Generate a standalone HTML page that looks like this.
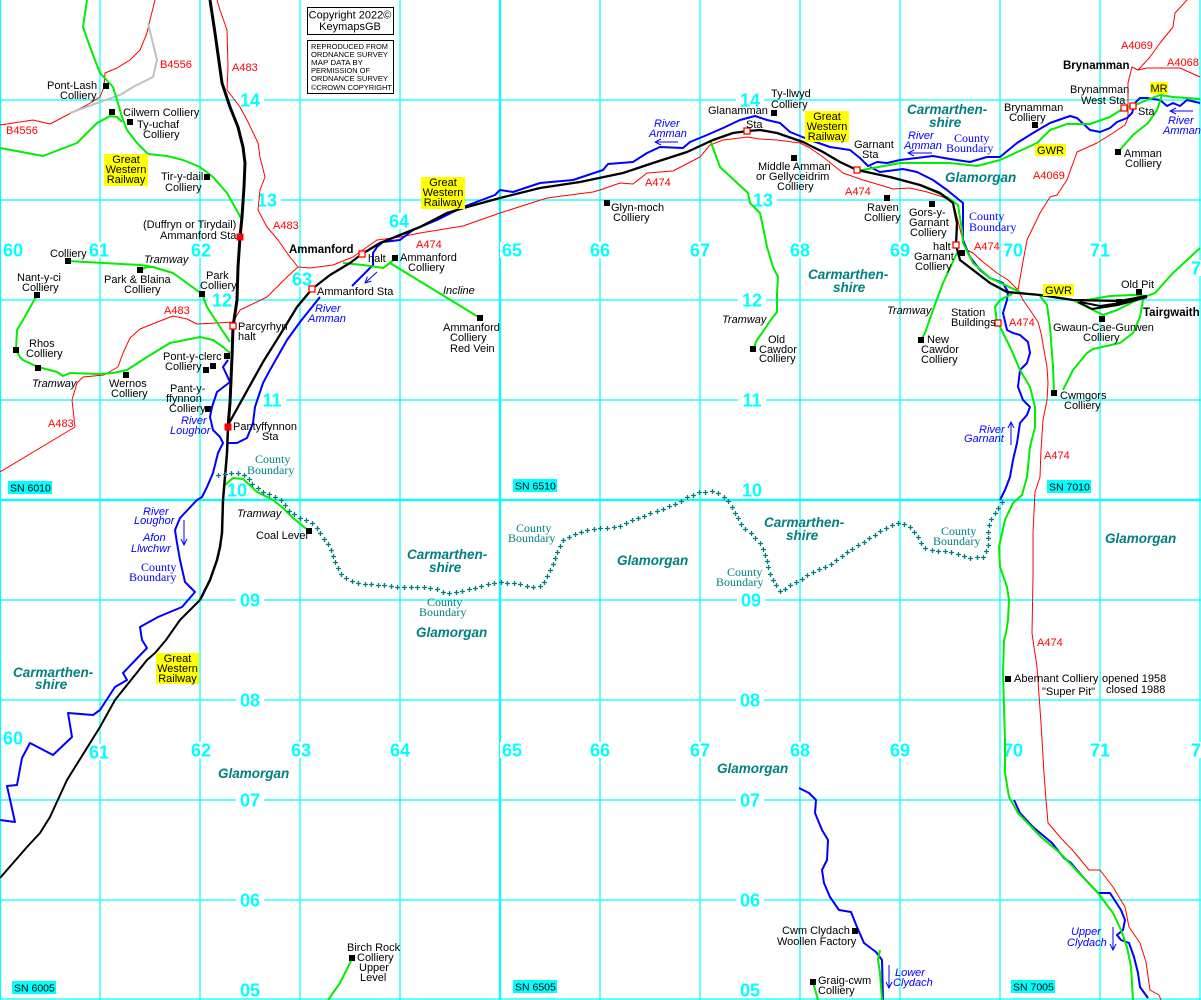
<!DOCTYPE html>
<html>
<head>
<meta charset="utf-8">
<style>
html,body{margin:0;padding:0;background:#fff;}
svg{display:block;}
text{font-family:"Liberation Sans",sans-serif;font-size:11px;fill:#000;}
.b{font-weight:bold;font-size:11.5px;}
.i{font-style:italic;}
.bl{font-style:italic;fill:#0000ff;}
.r{fill:#ff0000;}
.tl{font-weight:bold;font-style:italic;font-size:13.5px;fill:#008080;}
.cs{font-family:"Liberation Serif",serif;font-size:12px;fill:#008080;}
.cb{font-family:"Liberation Serif",serif;font-size:12px;fill:#0000ff;}
.g{font-weight:bold;font-size:18px;fill:#00ffff;text-anchor:middle;}
.c{text-anchor:middle;}
.sn{font-size:10.5px;}
.cp{font-size:7.5px;}
</style>
</head>
<body>
<svg width="1201" height="1000" viewBox="0 0 1201 1000" xmlns="http://www.w3.org/2000/svg">
<defs>
<marker id="ah" markerWidth="8" markerHeight="8" refX="7" refY="4" orient="auto" markerUnits="userSpaceOnUse">
<path d="M1,1 L7,4 L1,7" fill="none" stroke="#0000ff" stroke-width="1"/>
</marker>
<path id="cbpath" d="M218,475 L230,473 L240,473 L248,477 L253,485 L263,492 L273,495 L283,502 L290,512 L300,518 L310,522 L317,528 L323,537 L330,547 L333,557 L337,567 L343,577 L353,582 L367,584 L383,585 L400,587 L417,587 L433,588 L447,593 L460,592 L477,587 L497,582 L517,583 L530,587 L543,585 L547,577 L553,563 L558,550 L563,540 L577,533 L597,528 L617,527 L633,520 L653,512 L673,505 L687,497 L700,492 L713,491 L722,495 L730,503 L735,513 L743,527 L753,535 L760,543 L765,553 L768,567 L772,578 L777,587 L780,592 L787,587 L800,580 L813,572 L830,565 L850,550 L867,540 L887,527 L900,522 L910,527 L917,535 L923,547 L933,550 L953,552 L970,558 L983,557 L988,548 L988,530 L990,520 L997,510 L1002,502"/>
</defs>
<rect x="0" y="0" width="1201" height="1000" fill="#fff"/>

<!-- grid -->
<g stroke="#00ffff" stroke-width="1.2" fill="none">
<path d="M0.5,0V1000M100,0V1000M200,0V1000M300,0V1000M400,0V1000M600,0V1000M700,0V1000M800,0V1000M900,0V1000M1000,0V1000M1100,0V1000M1200,0V1000"/>
<path d="M0,100H1201M0,200H1201M0,300H1201M0,400H1201M0,600H1201M0,700H1201M0,800H1201M0,900H1201M0,999H1201"/>
</g>
<g stroke="#00ffff" stroke-width="2.2" fill="none">
<path d="M500,0V1000M0,500H1201"/>
</g>

<!-- grid labels -->
<g fill="#fff">
<rect x="236" y="92" width="28" height="16"/><rect x="736" y="92" width="28" height="16"/>
<rect x="253" y="192" width="28" height="16"/><rect x="749" y="192" width="28" height="16"/>
<rect x="208" y="292" width="28" height="16"/><rect x="738" y="292" width="28" height="16"/>
<rect x="258" y="392" width="28" height="16"/><rect x="738" y="392" width="28" height="16"/>
<rect x="223" y="482" width="28" height="16"/><rect x="738" y="482" width="28" height="16"/>
<rect x="236" y="592" width="28" height="16"/><rect x="737" y="592" width="28" height="16"/>
<rect x="236" y="692" width="28" height="16"/><rect x="736" y="692" width="28" height="16"/>
<rect x="236" y="792" width="28" height="16"/><rect x="736" y="792" width="28" height="16"/>
<rect x="236" y="892" width="28" height="16"/><rect x="736" y="892" width="28" height="16"/>
<rect x="236" y="982" width="28" height="16"/><rect x="736" y="982" width="28" height="16"/>
<rect x="1" y="242" width="26" height="16"/><rect x="87" y="242" width="26" height="16"/><rect x="189" y="242" width="26" height="16"/><rect x="290" y="271" width="26" height="16"/><rect x="387" y="213" width="26" height="16"/><rect x="500" y="242" width="26" height="16"/><rect x="588" y="242" width="26" height="16"/><rect x="688" y="242" width="26" height="16"/><rect x="788" y="242" width="26" height="16"/><rect x="888" y="242" width="26" height="16"/><rect x="1001" y="242" width="26" height="16"/><rect x="1088" y="242" width="26" height="16"/><rect x="1189" y="260" width="12" height="16"/>
<rect x="1" y="730" width="26" height="16"/><rect x="87" y="744" width="26" height="16"/><rect x="189" y="742" width="26" height="16"/><rect x="289" y="742" width="26" height="16"/><rect x="388" y="742" width="26" height="16"/><rect x="500" y="742" width="26" height="16"/><rect x="588" y="742" width="26" height="16"/><rect x="688" y="742" width="26" height="16"/><rect x="788" y="742" width="26" height="16"/><rect x="888" y="742" width="26" height="16"/><rect x="1001" y="742" width="26" height="16"/><rect x="1088" y="742" width="26" height="16"/><rect x="1189" y="742" width="12" height="16"/>
</g>
<g>
<text class="g" x="250" y="106.5">14</text><text class="g" x="750" y="106.5">14</text>
<text class="g" x="267" y="206.5">13</text><text class="g" x="763" y="206.5">13</text>
<text class="g" x="222" y="306.5">12</text><text class="g" x="752" y="306.5">12</text>
<text class="g" x="272" y="406.5">11</text><text class="g" x="752" y="406.5">11</text>
<text class="g" x="237" y="496.5">10</text><text class="g" x="752" y="496.5">10</text>
<text class="g" x="250" y="606.5">09</text><text class="g" x="751" y="606.5">09</text>
<text class="g" x="250" y="706.5">08</text><text class="g" x="750" y="706.5">08</text>
<text class="g" x="250" y="806.5">07</text><text class="g" x="750" y="806.5">07</text>
<text class="g" x="250" y="906.5">06</text><text class="g" x="750" y="906.5">06</text>
<text class="g" x="250" y="996.5">05</text><text class="g" x="750" y="996.5">05</text>
<text class="g" x="13" y="256.5">60</text><text class="g" x="99" y="256.5">61</text><text class="g" x="201" y="256.5">62</text><text class="g" x="302" y="285.5">63</text><text class="g" x="399" y="227.5">64</text><text class="g" x="512" y="256.5">65</text><text class="g" x="600" y="256.5">66</text><text class="g" x="700" y="256.5">67</text><text class="g" x="800" y="256.5">68</text><text class="g" x="900" y="256.5">69</text><text class="g" x="1013" y="256.5">70</text><text class="g" x="1100" y="256.5">71</text><text class="g" x="1196" y="274.5">7</text>
<text class="g" x="13" y="744.5">60</text><text class="g" x="99" y="758.5">61</text><text class="g" x="201" y="756.5">62</text><text class="g" x="301" y="756.5">63</text><text class="g" x="400" y="756.5">64</text><text class="g" x="512" y="756.5">65</text><text class="g" x="600" y="756.5">66</text><text class="g" x="700" y="756.5">67</text><text class="g" x="800" y="756.5">68</text><text class="g" x="900" y="756.5">69</text><text class="g" x="1013" y="756.5">70</text><text class="g" x="1100" y="756.5">71</text><text class="g" x="1196" y="756.5">7</text>
</g>

<!-- SN boxes -->
<g fill="#00ffff">
<rect x="8" y="481" width="44" height="13"/>
<rect x="513" y="479" width="44" height="13"/>
<rect x="1047" y="480" width="44" height="13"/>
<rect x="12" y="981" width="44" height="13"/>
<rect x="513" y="980" width="44" height="13"/>
<rect x="1011" y="980" width="44" height="13"/>
</g>
<text class="sn" x="10" y="491.5">SN 6010</text>
<text class="sn" x="515" y="489.5">SN 6510</text>
<text class="sn" x="1049" y="490.5">SN 7010</text>
<text class="sn" x="14" y="991.5">SN 6005</text>
<text class="sn" x="515" y="990.5">SN 6505</text>
<text class="sn" x="1013" y="990.5">SN 7005</text>

<!-- roads -->
<g fill="none" stroke="#ff0000" stroke-width="1" stroke-linejoin="round">
<path d="M217,0 L220,10 L227,30 L228,67 L227,90 L240,107 L248,122 L258,143 L260,157 L265,177 L260,190 L258,210 L267,227 L278,240 L290,257 L298,267"/>
<path d="M298,267 L310,268 L333,265 L353,257 L367,247 L377,240 L400,237 L420,233 L463,226 L500,213 L547,198 L593,192 L600,190 L620,183 L633,184 L647,173 L673,171 L700,157 L710,145 L723,140 L740,138 L747,137 L760,139 L777,140 L800,143 L810,148 L823,157 L833,165 L843,173 L863,180 L880,185 L893,189 L910,188 L927,192 L943,197 L953,202 L957,217 L962,237 L967,250 L973,253 L983,262 L997,273 L1008,280 L1018,290 L1023,300 L1030,310 L1038,322 L1041,333 L1047,367 L1048,383 L1047,400 L1043,420 L1041,450 L1040,477 L1035,492 L1033,533 L1033,577 L1032,633 L1033,640 L1037,667 L1041,723 L1044,773 L1046,800 L1048,823 L1060,837 L1075,853 L1089,870 L1100,870 L1113,887 L1125,907 L1129,927 L1140,943 L1146,962 L1150,990 L1159,995 L1161,1000"/>
<path d="M298,267 L287,277 L267,297 L240,310 L233,322 L217,323 L197,324 L187,319 L173,316 L160,321 L140,329 L130,338 L123,353 L118,367 L104,375 L83,377 L77,383 L72,400 L75,427 L0,472"/>
<path d="M155,0 L150,20 L147,33 L140,50 L130,60 L117,68 L105,73 L104,87 L100,97 L87,105 L73,112 L50,124 L33,120 L0,125"/>
<path d="M1018,290 L1022,267 L1027,240 L1040,213 L1050,197 L1057,195 L1067,180 L1077,152 L1097,143 L1113,133 L1125,125 L1128,118 L1128,83 L1132,67 L1138,70 L1150,57 L1160,43 L1173,27 L1175,13 L1187,0"/>
<path d="M1138,70 L1147,68 L1180,68 L1200,77"/>
</g>
<path d="M148,23 L157,60 L153,77 L133,87 L120,95 L100,102 L70,113" fill="none" stroke="#c0c0c0" stroke-width="2"/>

<!-- rivers -->
<g fill="none" stroke="#0000ff" stroke-width="2" stroke-linejoin="round">
<path d="M1200,103 L1187,100 L1180,106 L1173,103 L1167,106 L1160,100 L1147,98 L1140,98 L1135,103 L1132,113 L1127,118 L1117,122 L1110,128 L1100,132 L1090,130 L1077,118 L1070,116 L1050,123 L1033,133 L1017,143 L1000,157 L987,157 L970,162 L950,159 L933,156 L900,160 L887,163 L877,162 L868,166 L860,158 L850,150 L830,147 L810,140 L790,132 L780,123 L767,120 L755,116 L740,120 L723,128 L707,135 L690,142 L683,148 L660,147 L647,153 L633,162 L608,164 L603,170 L573,180 L540,183 L513,192 L500,190 L495,195 L463,207 L437,220 L413,230 L400,240 L383,242 L377,247 L373,253 L373,265 L352,286"/>
<path d="M320,297 L300,322 L287,340 L270,370 L263,383 L255,407 L253,423 L247,438 L237,443 L228,443"/>
<path d="M228,360 L223,367 L230,382 L217,392 L212,407 L210,417 L213,430 L220,437 L223,443 L218,453 L213,473 L207,487 L202,497 L197,500 L180,518 L175,530 L177,543 L180,560 L185,582 L195,592 L182,607 L158,617 L140,627 L142,640 L147,648 L123,673 L127,680 L115,687 L100,710 L93,715 L68,713 L72,737 L53,755 L30,743 L22,758 L17,785 L7,786 L15,822 L0,820"/>
<path d="M870,167 L880,172 L903,169 L917,172 L933,180 L947,190 L963,203 L963,240 L970,257 L980,270 L990,278 L1003,283 L1008,292 L1007,300 L1003,313 L1007,330 L1013,333 L1020,335 L1028,342 L1030,353 L1027,363 L1020,370 L1018,387 L1023,400 L1030,407 L1027,415 L1020,423 L1017,443 L1013,460 L1010,477 L1005,490 L1000,500"/>
<path d="M799,788 L809,793 L816,800 L815,813 L822,830 L828,840 L827,860 L822,870 L824,883 L830,897 L839,910 L851,912 L857,927 L864,943 L876,952 L882,960 L883,1000"/>
<path d="M1014,800 L1020,813 L1033,827 L1052,843 L1064,858 L1071,863 L1083,877 L1098,893 L1110,893 L1121,910 L1125,920 L1123,930 L1117,935 L1121,940 L1129,943 L1134,957 L1138,973 L1140,987 L1148,998"/>
</g>
<!-- river arrows -->
<g fill="none" stroke="#0000ff" stroke-width="1" marker-end="url(#ah)">
<path d="M678,142 L655,142"/>
<path d="M932,153 L908,153"/>
<path d="M1193,111 L1170,111"/>
<path d="M377,272 L365,283"/>
<path d="M184,520 L184,545"/>
<path d="M1011,445 L1011,422"/>
<path d="M889,965 L889,988"/>
<path d="M1113,927 L1113,950"/>
</g>

<!-- green lines -->
<g fill="none" stroke="#00ee00" stroke-width="2" stroke-linejoin="round">
<path d="M87,0 L83,27 L90,47 L100,73 L113,87 L117,100 L122,117 L127,130 L137,143 L148,154 L167,156 L183,160 L200,167 L213,177 L227,193 L241,218"/>
<path d="M0,148 L43,156 L77,143 L97,123 L110,116 L117,117 L122,122"/>
<path d="M68,261 L140,265 L153,267 L173,273 L202,294 L207,307 L220,327 L230,342"/>
<path d="M140,270 L147,267 L155,267"/>
<path d="M37,295 L23,320 L17,330 L16,350 L20,357 L23,360 L38,367 L57,372 L63,376 L70,373 L100,374 L113,373 L127,370 L147,357 L170,343 L200,337 L213,340 L223,347 L230,353"/>
<path d="M343,263 L363,265 L377,267 L383,268 L390,263 L395,258"/>
<path d="M390,263 L480,318"/>
<path d="M710,140 L720,167 L748,193 L750,203 L760,213 L763,227 L767,247 L773,267 L778,277 L777,293 L777,312 L770,321 L762,333 L757,340 L753,349"/>
<path d="M857,171 L900,163 L950,163 L977,166 L1000,160 L1037,143 L1050,130 L1067,124 L1090,124 L1110,117 L1124,108 L1133,106 L1147,100 L1160,95 L1173,97 L1200,99"/>
<path d="M1162,95 L1157,110 L1148,123 L1133,135 L1118,152"/>
<path d="M922,186 L947,197 L958,205 L962,230 L963,243 L973,263 L990,278 L1005,285 L1020,292"/>
<path d="M1012,294 L1000,300 L995,307 L997,323 L1000,327 L1010,347 L1020,370 L1030,387 L1035,407 L1035,427 L1030,447 L1027,477 L1022,495 L1013,503 L1005,520 L999,547 L1000,567 L1007,587 L1009,600 L1008,620 L1006,633 L1004,640 L1003,673 L1005,740 L1005,773 L1009,797 L1018,813 L1041,837 L1060,853 L1079,873 L1098,893 L1113,913 L1121,930 L1127,947 L1131,967 L1133,1000"/>
<path d="M1040,296 L1047,305 L1050,327 L1053,367 L1054,393"/>
<path d="M1145,297 L1143,300 L1140,317 L1133,333 L1120,343 L1093,349 L1087,353 L1073,370 L1063,390"/>
<path d="M1073,300 L1087,300 L1110,296 L1133,295 L1147,296"/>
<path d="M1073,300 L1087,307 L1103,315 L1117,310 L1133,302 L1147,296"/>
<path d="M1147,296 L1155,293 L1173,273 L1200,248"/>
<path d="M957,253 L943,283 L933,310 L925,333 L921,340"/>
<path d="M352,958 L350,963 L340,983 L328,1000"/>
<path d="M880,950 L878,960 L880,973 L882,1000"/>
<path d="M813,982 L818,1000"/>
<path d="M225,485 L233,478 L243,479 L252,487 L257,492 L273,500 L283,508 L293,518 L309,531"/>
</g>

<!-- railways -->
<g fill="none" stroke="#000" stroke-linejoin="round">
<path stroke-width="3" d="M210,0 L215,33 L222,83 L230,107 L238,127 L243,147 L245,163 L244,187 L242,217 L240,237 L238,267 L237,300 L233,327 L232,357 L230,403 L228,427"/>
<path stroke-width="2.5" d="M228,427 L227,453 L225,477 L223,500 L222,533 L220,547 L217,560 L210,580 L200,600"/>
<path stroke-width="2" d="M200,600 L180,620 L166,640 L155,653 L147,660 L115,700 L100,727 L67,780 L50,817 L40,833 L27,847 L0,878"/>
<path stroke-width="2.3" d="M228,425 L263,362 L283,330 L297,307 L312,289 L330,275 L350,263 L362,254 L380,243 L400,235 L420,227 L447,213 L467,207 L500,198 L540,188 L580,182 L623,173 L653,163 L687,152 L713,140 L733,133 L748,131 L760,130 L777,133 L803,142 L823,152 L840,162 L857,170 L890,177 L920,185 L940,193 L953,203 L957,223 L956,245 L960,260 L977,273 L990,283 L1007,292 L1040,295 L1073,300 L1120,301 L1147,296"/>
<path stroke-width="2" d="M1080,302 L1100,306 L1120,303 L1147,297"/>
<path stroke-width="2" d="M1078,302 L1092,309 L1118,305 L1147,297"/>
</g>

<!-- county boundary crosses (fallback) -->
<g id="cbfb" fill="none" stroke="#008080">
<use href="#cbpath" stroke-width="1.3" stroke-dasharray="5 1.6"/>
<use href="#cbpath" stroke-width="5" stroke-dasharray="0 2 1.3 3.3"/>
</g>
<g id="cbjs"></g>

<!-- colliery squares -->
<g fill="#000">
<rect x="103" y="83" width="6" height="6"/><rect x="109" y="109" width="6" height="6"/><rect x="127" y="119" width="6" height="6"/><rect x="204" y="174" width="6" height="6"/><rect x="65" y="258" width="6" height="6"/><rect x="137" y="267" width="6" height="6"/><rect x="199" y="291" width="6" height="6"/><rect x="34" y="292" width="6" height="6"/><rect x="13" y="347" width="6" height="6"/><rect x="35" y="365" width="6" height="6"/><rect x="123" y="372" width="6" height="6"/><rect x="224" y="353" width="6" height="6"/><rect x="210" y="363" width="6" height="6"/><rect x="203" y="367" width="6" height="6"/><rect x="205" y="406" width="6" height="6"/><rect x="392" y="255" width="6" height="6"/><rect x="477" y="315" width="6" height="6"/><rect x="604" y="200" width="6" height="6"/><rect x="771" y="110" width="6" height="6"/><rect x="791" y="155" width="6" height="6"/><rect x="884" y="195" width="6" height="6"/><rect x="929" y="201" width="6" height="6"/><rect x="959" y="250" width="6" height="6"/><rect x="1032" y="122" width="6" height="6"/><rect x="1115" y="149" width="6" height="6"/><rect x="1136" y="289" width="6" height="6"/><rect x="1116" y="299" width="6" height="6"/><rect x="1099" y="316" width="6" height="6"/><rect x="750" y="346" width="6" height="6"/><rect x="918" y="337" width="6" height="6"/><rect x="1051" y="390" width="6" height="6"/><rect x="306" y="528" width="6" height="6"/><rect x="1005" y="676" width="6" height="6"/><rect x="349" y="955" width="6" height="6"/><rect x="852" y="928" width="6" height="6"/><rect x="810" y="979" width="6" height="6"/>
</g>
<!-- stations -->
<g fill="#fff" stroke="#ff0000" stroke-width="1.3">
<rect x="230" y="323" width="6" height="6"/><rect x="309" y="286" width="6" height="6"/><rect x="359" y="251" width="6" height="6"/><rect x="744" y="128" width="6" height="6"/><rect x="854" y="167" width="6" height="6"/><rect x="953" y="242" width="6" height="6"/><rect x="995" y="320" width="6" height="6"/><rect x="1121" y="105" width="6" height="6"/><rect x="1130" y="103" width="6" height="6"/>
</g>
<g fill="#ff0000">
<rect x="236.5" y="233.5" width="7" height="7"/><rect x="224.5" y="423.5" width="7" height="7"/>
</g>

<!-- copyright boxes -->
<rect x="307.5" y="7.5" width="86" height="27" fill="#fff" stroke="#000" stroke-width="1"/>
<text class="c" x="350" y="18.5">Copyright 2022©</text>
<text class="c" x="350" y="30">KeymapsGB</text>
<rect x="307.5" y="40.5" width="86" height="53" fill="#fff" stroke="#000" stroke-width="1"/>
<text class="cp" x="311" y="49" textLength="77" lengthAdjust="spacingAndGlyphs">REPRODUCED FROM</text>
<text class="cp" x="311" y="57" textLength="77" lengthAdjust="spacingAndGlyphs">ORDNANCE SURVEY</text>
<text class="cp" x="311" y="65" textLength="52" lengthAdjust="spacingAndGlyphs">MAP DATA BY</text>
<text class="cp" x="311" y="73" textLength="59" lengthAdjust="spacingAndGlyphs">PERMISSION OF</text>
<text class="cp" x="311" y="81" textLength="77" lengthAdjust="spacingAndGlyphs">ORDNANCE SURVEY</text>
<text class="cp" x="311" y="90" textLength="81" lengthAdjust="spacingAndGlyphs">©CROWN COPYRIGHT</text>

<!-- yellow boxes -->
<g fill="#ffff00">
<rect x="104" y="154" width="44" height="32"/>
<rect x="421" y="177" width="44" height="32"/>
<rect x="805" y="111" width="44" height="31"/>
<rect x="156" y="653" width="43" height="31"/>
<rect x="1035" y="144" width="31" height="12"/>
<rect x="1043" y="284" width="31" height="12"/>
<rect x="1150" y="82" width="18" height="12"/>
</g>
<g class="c">
<text class="c" x="126" y="163">Great</text><text class="c" x="126" y="173">Western</text><text class="c" x="126" y="183">Railway</text>
<text class="c" x="443" y="186">Great</text><text class="c" x="443" y="196">Western</text><text class="c" x="443" y="206">Railway</text>
<text class="c" x="827" y="120">Great</text><text class="c" x="827" y="130">Western</text><text class="c" x="827" y="140">Railway</text>
<text class="c" x="177.5" y="662">Great</text><text class="c" x="177.5" y="672">Western</text><text class="c" x="177.5" y="682">Railway</text>
<text class="c" x="1050.5" y="154">GWR</text>
<text class="c" x="1058.5" y="294">GWR</text>
<text class="c" x="1159" y="92">MR</text>
</g>

<!-- black labels -->
<text x="47" y="89">Pont-Lash</text><text x="60" y="99">Colliery</text>
<text x="123" y="116">Cilwern Colliery</text>
<text x="137" y="128">Ty-uchaf</text><text x="143" y="138">Colliery</text>
<text x="161" y="180">Tir-y-dail</text><text x="165" y="191">Colliery</text>
<text x="143" y="228">(Duffryn or Tirydail)</text>
<text x="160" y="239">Ammanford Sta</text>
<text x="368" y="262">halt</text>
<text x="50" y="257">Colliery</text>
<text x="17" y="281">Nant-y-ci</text><text x="22" y="291">Colliery</text>
<text x="104" y="283">Park &amp; Blaina</text><text x="124" y="293">Colliery</text>
<text x="206" y="279">Park</text><text x="200" y="289">Colliery</text>
<text x="317" y="295">Ammanford Sta</text>
<text x="238" y="330">Parcyrhyn</text><text x="238" y="340">halt</text>
<text x="400" y="261">Ammanford</text><text x="408" y="271">Colliery</text>
<text x="443" y="331">Ammanford</text><text x="450" y="341">Colliery</text><text x="450" y="352">Red Vein</text>
<text x="611" y="211">Glyn-moch</text><text x="613" y="221">Colliery</text>
<text x="708" y="114">Glanamman</text><text x="746" y="128">Sta</text>
<text x="771" y="97">Ty-llwyd</text><text x="771" y="108">Colliery</text>
<text x="758" y="170">Middle Amman</text><text x="756" y="180">or Gellyceidrim</text><text x="777" y="190">Colliery</text>
<text x="768" y="343">Old</text><text x="759" y="353">Cawdor</text><text x="759" y="362">Colliery</text>
<text x="854" y="148">Garnant</text><text x="862" y="158">Sta</text>
<text x="867" y="211">Raven</text><text x="864" y="221">Colliery</text>
<text x="909" y="216">Gors-y-</text><text x="909" y="226">Garnant</text><text x="910" y="236">Colliery</text>
<text x="933" y="250">halt</text><text x="914" y="260">Garnant</text><text x="915" y="270">Colliery</text>
<text x="1070" y="93">Brynamman</text><text x="1081" y="104">West Sta</text>
<text x="1138" y="115">Sta</text>
<text x="1004" y="111">Brynamman</text><text x="1009" y="121">Colliery</text>
<text x="1124" y="157">Amman</text><text x="1125" y="167">Colliery</text>
<text x="1121" y="288">Old Pit</text>
<text x="951" y="316">Station</text><text x="951" y="326">Buildings</text>
<text x="1053" y="331">Gwaun-Cae-Gurwen</text><text x="1083" y="341">Colliery</text>
<text x="927" y="343">New</text><text x="921" y="353">Cawdor</text><text x="921" y="363">Colliery</text>
<text x="1060" y="399">Cwmgors</text><text x="1064" y="409">Colliery</text>
<text x="29" y="347">Rhos</text><text x="26" y="357">Colliery</text>
<text x="109" y="387">Wernos</text><text x="111" y="397">Colliery</text>
<text x="163" y="360">Pont-y-clerc</text><text x="165" y="370">Colliery</text>
<text x="170" y="392">Pant-y-</text><text x="166" y="402">ffynnon</text><text x="169" y="412">Colliery</text>
<text x="233" y="430">Pantyffynnon</text><text x="262" y="440">Sta</text>
<text x="256" y="539">Coal Level</text>
<text x="347" y="951">Birch Rock</text><text x="357" y="961">Colliery</text><text x="359" y="971">Upper</text><text x="360" y="981">Level</text>
<text x="1014" y="682">Abernant Colliery</text><text x="1102" y="682">opened 1958</text>
<text x="1042" y="695">"Super Pit"</text><text x="1106" y="693">closed 1988</text>
<text x="782" y="934">Cwm Clydach</text><text x="777" y="945">Woollen Factory</text>
<text x="818" y="984">Graig-cwm</text><text x="818" y="994">Colliery</text>

<!-- bold towns -->
<text class="b" x="289" y="253">Ammanford</text>
<text class="b" x="1063" y="69">Brynamman</text>
<text class="b" x="1143" y="316">Tairgwaith</text>

<!-- italic tramway -->
<text class="i" x="144" y="263">Tramway</text>
<text class="i" x="443" y="294">Incline</text>
<text class="i" x="722" y="323">Tramway</text>
<text class="i" x="887" y="314">Tramway</text>
<text class="i" x="32" y="387">Tramway</text>
<text class="i" x="237" y="517">Tramway</text>

<!-- blue river labels -->
<text class="bl" x="315" y="312">River</text><text class="bl" x="308" y="322">Amman</text>
<text class="bl" x="654" y="127">River</text><text class="bl" x="649" y="137">Amman</text>
<text class="bl" x="908" y="139">River</text><text class="bl" x="904" y="149">Amman</text>
<text class="bl" x="1168" y="124">River</text><text class="bl" x="1163" y="134">Amman</text>
<text class="bl" x="181" y="424">River</text><text class="bl" x="170" y="434">Loughor</text>
<text class="bl" x="143" y="515">River</text><text class="bl" x="134" y="524">Loughor</text>
<text class="bl" x="143" y="541">Afon</text><text class="bl" x="131" y="552">Llwchwr</text>
<text class="bl" x="979" y="433">River</text><text class="bl" x="964" y="442">Garnant</text>
<text class="bl" x="895" y="976">Lower</text><text class="bl" x="893" y="986">Clydach</text>
<text class="bl" x="1071" y="935">Upper</text><text class="bl" x="1067" y="946">Clydach</text>

<!-- road labels -->
<text class="r" x="160" y="68">B4556</text>
<text class="r" x="6" y="134">B4556</text>
<text class="r" x="232" y="71">A483</text>
<text class="r" x="273" y="229">A483</text>
<text class="r" x="164" y="314">A483</text>
<text class="r" x="48" y="427">A483</text>
<text class="r" x="416" y="248">A474</text>
<text class="r" x="645" y="186">A474</text>
<text class="r" x="845" y="195">A474</text>
<text class="r" x="974" y="250">A474</text>
<text class="r" x="1009" y="326">A474</text>
<text class="r" x="1044" y="459">A474</text>
<text class="r" x="1037" y="646">A474</text>
<text class="r" x="1033" y="179">A4069</text>
<text class="r" x="1121" y="49">A4069</text>
<text class="r" x="1167" y="66">A4068</text>

<!-- county names -->
<text class="tl" x="907" y="114">Carmarthen-</text><text class="tl" x="929" y="127">shire</text>
<text class="tl" x="945" y="182">Glamorgan</text>
<text class="tl" x="808" y="279">Carmarthen-</text><text class="tl" x="833" y="292">shire</text>
<text class="tl" x="13" y="677">Carmarthen-</text><text class="tl" x="35" y="689">shire</text>
<text class="tl" x="218" y="778">Glamorgan</text>
<text class="tl" x="407" y="559">Carmarthen-</text><text class="tl" x="429" y="572">shire</text>
<text class="tl" x="416" y="637">Glamorgan</text>
<text class="tl" x="617" y="565">Glamorgan</text>
<text class="tl" x="764" y="527">Carmarthen-</text><text class="tl" x="786" y="540">shire</text>
<text class="tl" x="1105" y="543">Glamorgan</text>
<text class="tl" x="717" y="773">Glamorgan</text>

<!-- county boundary labels -->
<text class="cb" x="954" y="142">County</text><text class="cb" x="946" y="152">Boundary</text>
<text class="cb" x="969" y="220">County</text><text class="cb" x="969" y="231">Boundary</text>
<text class="cb" x="141" y="571">County</text><text class="cb" x="129" y="581">Boundary</text>
<text class="cs" x="255" y="463">County</text><text class="cs" x="247" y="474">Boundary</text>
<text class="cs" x="516" y="532">County</text><text class="cs" x="508" y="542">Boundary</text>
<text class="cs" x="427" y="606">County</text><text class="cs" x="419" y="616">Boundary</text>
<text class="cs" x="727" y="576">County</text><text class="cs" x="716" y="586">Boundary</text>
<text class="cs" x="941" y="535">County</text><text class="cs" x="933" y="545">Boundary</text>
</svg>
<script>
(function(){
try{
var p=document.getElementById('cbpath');
if(!p||!p.getTotalLength)return;
var L=p.getTotalLength();
if(!(L>0))return;
var d='';
for(var l=0;l<=L;l+=6.6){
var q=p.getPointAtLength(l);
var x=Math.round(q.x)+0.5,y=Math.round(q.y)+0.5;
d+='M'+(x-2.5)+' '+y+'h5M'+x+' '+(y-2.5)+'v5';
}
var n=document.createElementNS('http://www.w3.org/2000/svg','path');
n.setAttribute('d',d);
n.setAttribute('stroke','#008080');
n.setAttribute('stroke-width','1.3');
n.setAttribute('fill','none');
document.getElementById('cbjs').appendChild(n);
document.getElementById('cbfb').setAttribute('display','none');
}catch(e){}
})();
</script>
</body>
</html>
